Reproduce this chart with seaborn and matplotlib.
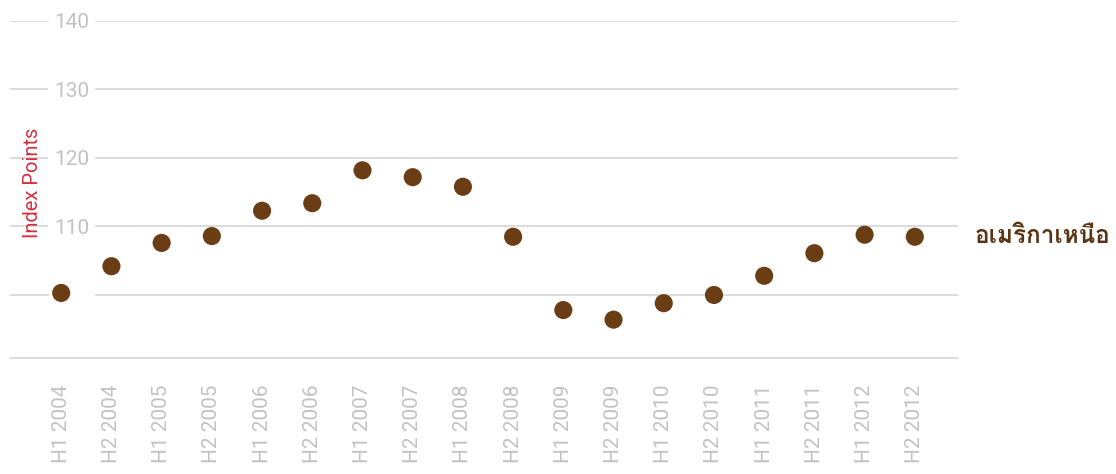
import pandas as pd
import seaborn as sns
from matplotlib import pyplot as plt
from matplotlib import font_manager
from matplotlib.ft2font import FT2Font

periods = ["H1 2004", "H2 2004", "H1 2005", "H2 2005", "H1 2006", "H2 2006",
           "H1 2007", "H2 2007", "H1 2008", "H2 2008", "H1 2009", "H2 2009",
           "H1 2010", "H2 2010", "H1 2011", "H2 2011", "H1 2012", "H2 2012"]
index_points = [100.3, 104.2, 107.6, 108.6, 112.3, 113.4,
                118.2, 117.2, 115.8, 108.5, 97.8, 96.4,
                98.8, 100.0, 102.8, 106.1, 108.8, 108.5]
y_ticks = [100, 110, 120, 130, 140]
y_labels = ["100", "110", "120", "130", "140"]
series_name = "อเมริกาเหนือ"

df = pd.DataFrame({"period": periods, "value": index_points})


def find_thai_font():
    # look for any installed font that has Thai glyphs
    for f in font_manager.fontManager.ttflist:
        try:
            cmap = FT2Font(f.fname).get_charmap()
        except Exception:
            continue
        if 0x0E2D in cmap and 0x0E40 in cmap:
            return f.name
    return None


sns.set_theme(style="white")
plt.rcParams["font.family"] = ["Roboto", "DejaVu Sans"]

fig = plt.figure(figsize=(11.16, 4.74), dpi=100)
ax = fig.add_axes([10 / 1116, 1 - 358 / 474, 948 / 1116, 337 / 474])

sns.scatterplot(data=df, x="period", y="value", ax=ax, color="#6b3d14",
                s=170, edgecolor="none", zorder=3)

ax.set_xlim(-1.02, 17.86)
ax.set_ylim(90.8, 140)
ax.set_yticks(y_ticks)
ax.set_yticklabels(y_labels)
ax.yaxis.grid(True, color="#d6d6d6", linewidth=1.2)
ax.set_axisbelow(True)

for s in ["top", "right", "left"]:
    ax.spines[s].set_visible(False)
ax.spines["bottom"].set_color("#d6d6d6")
ax.spines["bottom"].set_linewidth(1.2)

ax.tick_params(axis="y", length=0, pad=-57, labelsize=15, labelcolor="#c2c2c2")
ax.tick_params(axis="x", length=0, pad=19, labelsize=15, labelcolor="#c2c2c2",
               labelrotation=90)
for lab in ax.get_yticklabels():
    lab.set_bbox(dict(facecolor="white", edgecolor="none", pad=4))
    lab.set_zorder(2)
    if lab.get_text() == "100":
        lab.set_color("white")
for lab in ax.get_xticklabels():
    lab.set_va("top")

ax.set_xlabel("")
ax.set_ylabel("")
fig.text(33 / 1116, 1 - 183 / 474, "Index Points", rotation=90, color="#d0323e",
         fontsize=14.5, ha="center", va="center")

thai = find_thai_font()
fam = [thai, "DejaVu Sans"] if thai else ["DejaVu Sans"]
ax.annotate(series_name, xy=(1, index_points[-1]), xycoords=("axes fraction", "data"),
            xytext=(12, 0), textcoords="offset points", va="center", ha="left",
            fontsize=17.5, fontweight="bold", color="#5a3412", family=fam)

fig.savefig("out.png", dpi=100)
